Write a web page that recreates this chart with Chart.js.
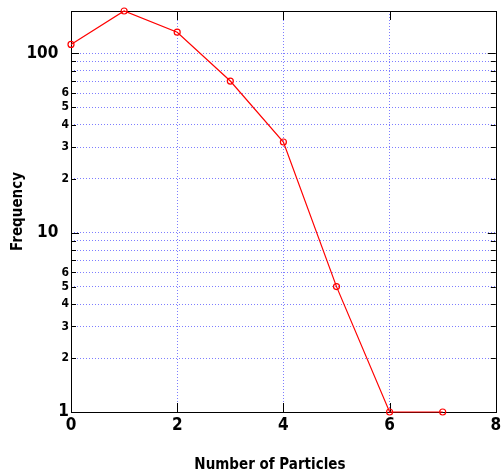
<!DOCTYPE html>
<html>
<head>
<meta charset="utf-8">
<script src="https://cdn.jsdelivr.net/npm/chart.js@4.4.1/dist/chart.umd.min.js"></script>
<style>
  html, body { margin: 0; padding: 0; background: #fff; }
  #wrap { width: 501px; height: 474px; }
</style>
</head>
<body>
<div id="wrap"><canvas id="grafiek" width="501" height="474"></canvas></div>
<script>
const deeltjes = [0, 1, 2, 3, 4, 5, 6, 7];
const frequentie = [112, 172, 131, 70, 32, 5, 1, 1];

// tick waarden en labels (matlab stijl)
const xTicks = [0, 2, 4, 6, 8];
const yTicks = [1, 2, 3, 4, 5, 6, 7, 8, 9, 10, 20, 30, 40, 50, 60, 70, 80, 90, 100];
const yTickLabels = ['1', '2', '3', '4', '5', '6', '', '', '', '10', '2', '3', '4', '5', '6', '', '', '', '100'];
const grooteTicks = [1, 10, 100];

const lettertype = "'Liberation Sans Narrow', 'DejaVu Sans Condensed', sans-serif";
const rasterKleur = 'rgba(40, 40, 255, 0.6)';

// kader + ticks naar binnen, zoals matlab
const kaderPlugin = {
    id: 'kader',
    beforeDatasetsDraw(chart) {
        const { ctx, chartArea: a, scales } = chart;
        ctx.save();
        ctx.strokeStyle = '#000';
        ctx.lineWidth = 1;
        ctx.beginPath();
        scales.y.ticks.forEach(t => {
            const y = Math.round(scales.y.getPixelForValue(t.value)) + 0.5;
            const len = grooteTicks.includes(t.value) ? 8 : 5;
            ctx.moveTo(a.left, y); ctx.lineTo(a.left + len, y);
            ctx.moveTo(a.right, y); ctx.lineTo(a.right - len, y);
        });
        scales.x.ticks.forEach(t => {
            const x = Math.round(scales.x.getPixelForValue(t.value)) + 0.5;
            ctx.moveTo(x, a.bottom); ctx.lineTo(x, a.bottom - 9);
            ctx.moveTo(x, a.top); ctx.lineTo(x, a.top + 9);
        });
        ctx.stroke();
        ctx.strokeRect(Math.round(a.left) + 0.5, Math.round(a.top) + 0.5,
            Math.round(a.right - a.left), Math.round(a.bottom - a.top));
        ctx.restore();
    }
};

new Chart(document.getElementById('grafiek'), {
    type: 'line',
    data: {
        datasets: [{
            data: deeltjes.map((d, i) => ({ x: d, y: frequentie[i] })),
            borderColor: '#ff0000',
            borderWidth: 1.2,
            backgroundColor: 'transparent',
            pointStyle: 'circle',
            pointRadius: 3,
            pointBorderWidth: 1.2,
            pointBorderColor: '#ff0000',
            pointBackgroundColor: 'transparent',
            tension: 0,
            clip: false
        }]
    },
    options: {
        responsive: false,
        animation: false,
        layout: { padding: { top: 11, right: 2, left: 0, bottom: 0 } },
        plugins: { legend: { display: false }, tooltip: { enabled: false } },
        scales: {
            x: {
                type: 'linear',
                min: 0,
                max: 8,
                afterBuildTicks: s => { s.ticks = xTicks.map(v => ({ value: v })); },
                afterFit: s => { s.height = 62; s.paddingRight = 0; s.paddingLeft = 0; },
                grid: {
                    drawTicks: false,
                    color: c => (c.tick && (c.tick.value === 0 || c.tick.value === 8)) ? 'transparent' : rasterKleur
                },
                border: { display: false, dash: [1, 2] },
                ticks: {
                    padding: 3,
                    color: '#000',
                    maxRotation: 0,
                    font: { family: lettertype, size: 17, weight: 'bold' }
                },
                title: {
                    display: true,
                    text: 'Number of Particles\u2003\u2003',
                    color: '#000',
                    padding: { top: 0, bottom: 0 },
                    font: { family: lettertype, size: 15, weight: 'bold' }
                }
            },
            y: {
                type: 'logarithmic',
                min: 1,
                max: Math.max(...frequentie),
                afterBuildTicks: s => { s.ticks = yTicks.map(v => ({ value: v })); },
                afterFit: s => { s.width = 71; s.paddingTop = 0; s.paddingBottom = 0; },
                grid: {
                    drawTicks: false,
                    color: c => (c.tick && c.tick.value === 1) ? 'transparent' : rasterKleur
                },
                border: { display: false, dash: [1, 2] },
                ticks: {
                    padding: 2,
                    color: '#000',
                    autoSkip: false,
                    callback: (waarde) => {
                        const label = yTickLabels[yTicks.indexOf(waarde)];
                        return grooteTicks.includes(waarde) && waarde !== 1 ? label + '  ' : label;
                    },
                    font: c => (c.tick && grooteTicks.includes(c.tick.value))
                        ? { family: lettertype, size: 17, weight: 'bold' }
                        : { family: lettertype, size: 12, weight: 'bold' }
                },
                title: {
                    display: true,
                    text: 'Frequency',
                    color: '#000',
                    padding: { top: 9, bottom: 0 },
                    font: { family: lettertype, size: 15, weight: 'bold' }
                }
            }
        }
    },
    plugins: [kaderPlugin]
});
</script>
</body>
</html>
